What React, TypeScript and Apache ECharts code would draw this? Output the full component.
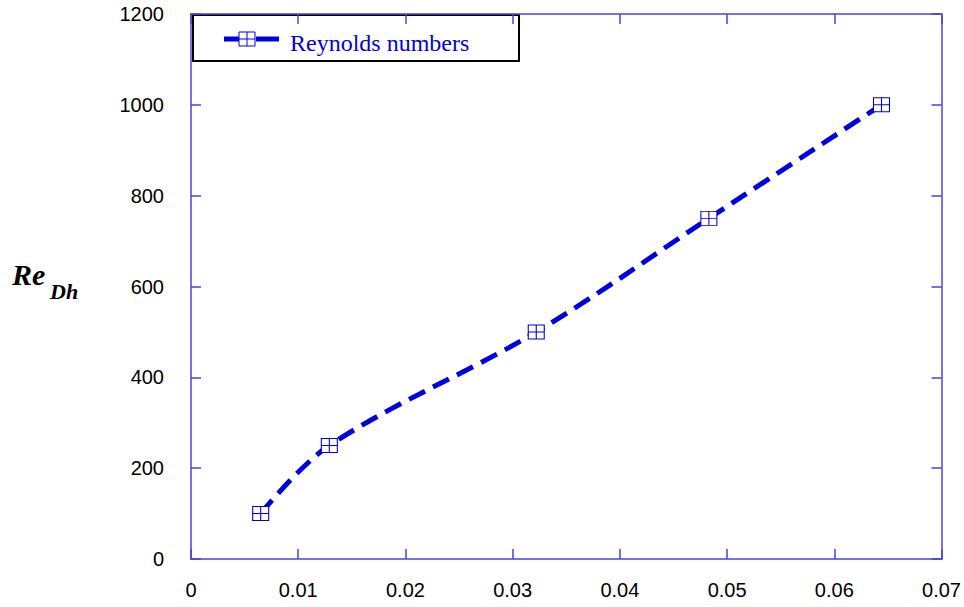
import React, { useEffect, useRef } from "react";
import * as echarts from "echarts";

const xValues = [0.0065, 0.0129, 0.0322, 0.0483, 0.0644];
const reValues = [100, 250, 500, 750, 1000];
const xTicks = { min: 0, max: 0.07, interval: 0.01 };
const yTicks = { min: 0, max: 1200, interval: 200 };
const seriesName = "Reynolds numbers";

const BLUE = "#0000dd";
const AXIS = "#4444dd";
const MARKER = "path://M0,0H16V14H0Z M8,0V14 M0,7H16";
const SERIF = "Liberation Serif, Times New Roman, serif";
const SANS = "Liberation Sans, Arial, sans-serif";

const mkLine = () => ({ show: true, onZero: false, lineStyle: { color: AXIS, width: 1.5 } });
const mkTick = () => ({ show: true, inside: true, length: 10, lineStyle: { color: AXIS, width: 1.5 } });

export default function App() {
  const ref = useRef<HTMLDivElement>(null);
  useEffect(() => {
    if (!ref.current) return;
    const chart = echarts.init(ref.current, null, { renderer: "svg" });
    const data = xValues.map((x, i) => [x, reValues[i]]);
    const label = { color: "#000", fontSize: 20, fontFamily: SANS };
    chart.setOption({
      animation: false,
      backgroundColor: "#fff",
      grid: { left: 191, right: 22, top: 14, bottom: 48, containLabel: false },
      xAxis: [
        {
          type: "value", ...xTicks, position: "bottom",
          axisLine: mkLine(), axisTick: mkTick(), splitLine: { show: false },
          axisLabel: { ...label, margin: 21, formatter: (v: number) => String(+v.toFixed(2)) },
        },
        {
          type: "value", ...xTicks, position: "top",
          axisLine: mkLine(), axisTick: mkTick(), splitLine: { show: false }, axisLabel: { show: false },
        },
      ],
      yAxis: [
        {
          type: "value", ...yTicks, position: "left",
          axisLine: mkLine(), axisTick: mkTick(), splitLine: { show: false },
          axisLabel: { ...label, margin: 27, formatter: (v: number) => String(v) },
        },
        {
          type: "value", ...yTicks, position: "right",
          axisLine: mkLine(), axisTick: mkTick(), splitLine: { show: false }, axisLabel: { show: false },
        },
      ],
      series: [
        {
          name: seriesName,
          type: "line",
          data,
          smooth: 0.35,
          symbol: MARKER,
          symbolSize: [16, 14],
          showSymbol: true,
          z: 3,
          lineStyle: { color: BLUE, width: 5, type: [18, 9], cap: "butt" },
          itemStyle: { color: "#fff", borderColor: BLUE, borderWidth: 1 },
        },
      ],
      graphic: [
        {
          type: "group", left: 192, top: 14, z: 10,
          children: [
            { type: "rect", shape: { x: 1, y: 1, width: 326, height: 46 }, style: { fill: "#fff", stroke: "#000", lineWidth: 2 } },
            { type: "line", shape: { x1: 32, y1: 25, x2: 48, y2: 25 }, style: { stroke: BLUE, lineWidth: 5 } },
            { type: "line", shape: { x1: 64, y1: 25, x2: 87, y2: 25 }, style: { stroke: BLUE, lineWidth: 5 } },
            { type: "rect", shape: { x: 47, y: 18, width: 16, height: 14 }, style: { fill: "#fff", stroke: BLUE, lineWidth: 1 } },
            { type: "line", shape: { x1: 55, y1: 18, x2: 55, y2: 32 }, style: { stroke: BLUE, lineWidth: 1 } },
            { type: "line", shape: { x1: 47, y1: 25, x2: 63, y2: 25 }, style: { stroke: BLUE, lineWidth: 1 } },
            {
              type: "text", x: 98, y: 29,
              style: { text: seriesName, fontSize: 24, fontFamily: SERIF, fill: BLUE, verticalAlign: "middle", align: "left" },
            },
          ],
        },
        {
          type: "text", left: 12, top: 259,
          style: { text: "Re", fontSize: 30, fontWeight: "bold", fontStyle: "italic", fontFamily: SERIF, fill: "#000" },
        },
        {
          type: "text", left: 50, top: 280,
          style: { text: "Dh", fontSize: 22, fontWeight: "bold", fontStyle: "italic", fontFamily: SERIF, fill: "#000" },
        },
      ],
    });
    return () => chart.dispose();
  }, []);
  return (
    <div
      ref={ref}
      style={{ position: "fixed", left: 0, top: 0, width: 964, height: 607, overflow: "hidden" }}
    />
  );
}
